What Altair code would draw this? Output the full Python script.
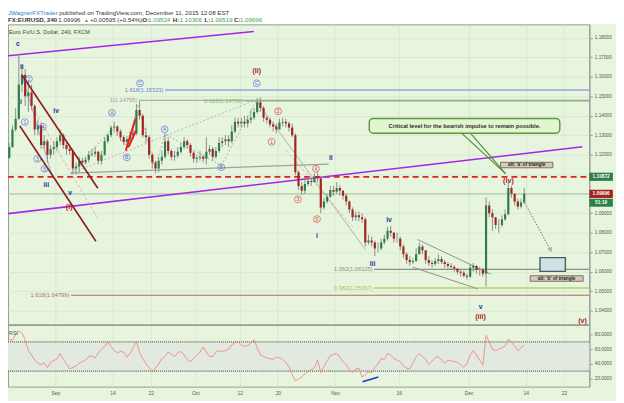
import altair as alt
import pandas as pd

# ---------------- values ----------------
FIRST_DAY = -8            # Aug 20 2015, trading days before Sep 1 (two bars per day)
FIRST_OPEN = 1.1150

close = [1.1185, 1.1240, 1.1330, 1.1385, 1.1560, 1.1610, 1.1500, 1.1520, 1.1450, 1.1330,
         1.1350, 1.1250, 1.1270, 1.1200, 1.1230, 1.1240, 1.1270, 1.1300, 1.1250, 1.1230,
         1.1220, 1.1130, 1.1140, 1.1170, 1.1160, 1.1175, 1.1200, 1.1205, 1.1215, 1.1170,
         1.1200, 1.1270, 1.1300, 1.1340, 1.1345, 1.1320, 1.1290, 1.1265, 1.1280, 1.1300,
         1.1310, 1.1430, 1.1400, 1.1300, 1.1290, 1.1200, 1.1160, 1.1130, 1.1170, 1.1190,
         1.1270, 1.1220, 1.1190, 1.1195, 1.1215, 1.1240, 1.1270, 1.1250, 1.1210, 1.1180,
         1.1185, 1.1190, 1.1180, 1.1215, 1.1230, 1.1190, 1.1220, 1.1260, 1.1270, 1.1280,
         1.1270, 1.1320, 1.1370, 1.1360, 1.1370, 1.1360, 1.1380, 1.1390, 1.1420, 1.1470,
         1.1440, 1.1390, 1.1380, 1.1355, 1.1345, 1.1330, 1.1365, 1.1370, 1.1360, 1.1340,
         1.1300, 1.1110, 1.1040, 1.1015, 1.1050, 1.1065, 1.1060, 1.1090, 1.1080, 1.0930,
         1.0960, 1.0985, 1.1020, 1.1010, 1.1030, 1.1015, 1.0990, 1.0960, 1.0920, 1.0880,
         1.0890, 1.0880, 1.0870, 1.0750, 1.0760, 1.0750, 1.0720, 1.0720, 1.0750, 1.0770,
         1.0810, 1.0800, 1.0770, 1.0770, 1.0730, 1.0690, 1.0660, 1.0650, 1.0655, 1.0690,
         1.0730, 1.0710, 1.0660, 1.0645, 1.0640, 1.0655, 1.0665, 1.0650, 1.0640, 1.0630,
         1.0625, 1.0615, 1.0600, 1.0595, 1.0580, 1.0575, 1.0620, 1.0630, 1.0610, 1.0610,
         1.0590, 1.0940, 1.0900, 1.0880, 1.0840, 1.0840, 1.0870, 1.0895, 1.1030, 1.1000,
         1.0960, 1.0935, 1.0955, 1.09996]
high = [1.1200, 1.1260, 1.1350, 1.1440, 1.1714, 1.1660, 1.1640, 1.1580, 1.1560, 1.1460,
        1.1380, 1.1360, 1.1300, 1.1280, 1.1250, 1.1270, 1.1290, 1.1330, 1.1310, 1.1270,
        1.1250, 1.1230, 1.1160, 1.1190, 1.1185, 1.1190, 1.1220, 1.1230, 1.1240, 1.1220,
        1.1220, 1.1290, 1.1310, 1.1350, 1.1370, 1.1350, 1.1330, 1.1300, 1.1295, 1.1320,
        1.1330, 1.1460, 1.1475, 1.1410, 1.1340, 1.1300, 1.1210, 1.1170, 1.1190, 1.1220,
        1.1310, 1.1290, 1.1230, 1.1220, 1.1240, 1.1260, 1.1290, 1.1280, 1.1260, 1.1220,
        1.1200, 1.1220, 1.1200, 1.1290, 1.1250, 1.1240, 1.1240, 1.1290, 1.1290, 1.1300,
        1.1300, 1.1350, 1.1390, 1.1390, 1.1390, 1.1400, 1.1400, 1.1430, 1.1440, 1.1490,
        1.1495, 1.1450, 1.1400, 1.1390, 1.1370, 1.1360, 1.1385, 1.1390, 1.1385, 1.1370,
        1.1360, 1.1310, 1.1120, 1.1060, 1.1070, 1.1085, 1.1080, 1.1105, 1.1110, 1.1090,
        1.0980, 1.1000, 1.1040, 1.1040, 1.1060, 1.1045, 1.1020, 1.1000, 1.0965, 1.0930,
        1.0910, 1.0910, 1.0900, 1.0880, 1.0790, 1.0780, 1.0760, 1.0750, 1.0770, 1.0790,
        1.0830, 1.0835, 1.0805, 1.0800, 1.0780, 1.0740, 1.0700, 1.0680, 1.0670, 1.0720,
        1.0750, 1.0740, 1.0710, 1.0680, 1.0660, 1.0670, 1.0690, 1.0680, 1.0660, 1.0650,
        1.0645, 1.0635, 1.0620, 1.0610, 1.0605, 1.0590, 1.0640, 1.0645, 1.0635, 1.0625,
        1.0620, 1.0981, 1.0960, 1.0920, 1.0880, 1.0870, 1.0890, 1.0920, 1.1060, 1.1040,
        1.1000, 1.0975, 1.0975, 1.10306]
low = [1.1140, 1.1180, 1.1235, 1.1320, 1.1380, 1.1520, 1.1450, 1.1420, 1.1430, 1.1300,
       1.1300, 1.1230, 1.1230, 1.1160, 1.1180, 1.1200, 1.1220, 1.1250, 1.1230, 1.1200,
       1.1200, 1.1100, 1.1100, 1.1110, 1.1140, 1.1150, 1.1160, 1.1190, 1.1190, 1.1150,
       1.1150, 1.1195, 1.1260, 1.1290, 1.1320, 1.1300, 1.1270, 1.1250, 1.1255, 1.1270,
       1.1280, 1.1300, 1.1380, 1.1290, 1.1260, 1.1180, 1.1130, 1.1105, 1.1110, 1.1150,
       1.1180, 1.1200, 1.1170, 1.1170, 1.1185, 1.1205, 1.1230, 1.1230, 1.1190, 1.1160,
       1.1160, 1.1170, 1.1160, 1.1150, 1.1200, 1.1170, 1.1180, 1.1210, 1.1240, 1.1250,
       1.1240, 1.1260, 1.1310, 1.1340, 1.1340, 1.1340, 1.1340, 1.1360, 1.1380, 1.1410,
       1.1420, 1.1370, 1.1360, 1.1340, 1.1320, 1.1310, 1.1330, 1.1345, 1.1340, 1.1320,
       1.1290, 1.1095, 1.1020, 1.0995, 1.1000, 1.1040, 1.1040, 1.1055, 1.1060, 1.0900,
       1.0920, 1.0950, 1.0980, 1.0990, 1.1000, 1.0990, 1.0970, 1.0940, 1.0900, 1.0860,
       1.0860, 1.0860, 1.0850, 1.0730, 1.0740, 1.0730, 1.0680, 1.0700, 1.0710, 1.0740,
       1.0760, 1.0780, 1.0750, 1.0750, 1.0710, 1.0670, 1.0640, 1.0630, 1.0640, 1.0650,
       1.0690, 1.0690, 1.0640, 1.0630, 1.0620, 1.0630, 1.0640, 1.0640, 1.0620, 1.0615,
       1.0610, 1.0600, 1.0585, 1.0575, 1.0570, 1.0560, 1.0570, 1.0600, 1.0590, 1.0580,
       1.0575, 1.0524, 1.0880, 1.0810, 1.0820, 1.0800, 1.0830, 1.0860, 1.0890, 1.0980,
       1.0940, 1.0920, 1.0925, 1.0950]
rsi = [68, 74, 72, 80, 85, 82, 73, 58, 52, 45, 41, 39, 41, 35, 42, 44, 47, 54, 46, 40,
       33, 35, 37, 41, 43, 45, 50, 51, 48, 55, 60, 64, 70, 64, 58, 55, 57, 56, 49, 54,
       62, 70, 55, 47, 40, 35, 30, 34, 40, 47, 50, 56, 53, 50, 55, 57, 52, 46, 43, 47,
       52, 56, 63, 56, 50, 50, 56, 58, 57, 58, 60, 66, 69, 70, 66, 64, 65, 68, 73, 62,
       52, 50, 48, 47, 46, 49, 48, 46, 42, 36, 25, 17, 19, 22, 26, 30, 32, 35, 45, 28,
       36, 44, 51, 53, 54, 49, 43, 39, 31, 28, 33, 34, 22, 25, 29, 28, 35, 40, 47, 46,
       54, 52, 47, 45, 43, 37, 34, 33, 41, 50, 54, 50, 46, 39, 44, 48, 50, 45, 41, 45,
       44, 43, 42, 39, 35, 40, 52, 58, 52, 45, 38, 79, 70, 60, 58, 60, 62, 64, 74, 70,
       64, 58, 62, 66]

tick_day = [0, 9, 15, 22, 29, 35, 44, 54, 65, 74, 80]
tick_text = ["Sep", "14", "22", "Oct", "12", "20", "Nov", "16", "Dec", "14", "22"]
price_ticks = [1.04, 1.05, 1.06, 1.07, 1.08, 1.09, 1.10, 1.11, 1.12, 1.13, 1.14, 1.15, 1.16, 1.17, 1.18]
hidden_ticks = [1.10, 1.11]          # covered by the price tags in the reference
rsi_ticks = [20, 40, 60, 80]

fib_text = ["1.618(1.15323)", "1(1.14795)", "0.618(1.14766)", "1.382(1.06125)", "0.382(1.05167)", "1.618(1.04799)"]
fib_price = [1.15323, 1.14795, 1.14766, 1.06125, 1.05167, 1.04799]
fib_start = [17.0, 12.9, 29.5, 49.9, 49.9, 2.2]          # trading day where each drawing begins
fib_color = ["#6f82d6", "#9a9a9a", "#86b568", "#8e8e8e", "#b5d65e", "#b5675a"]

critical_level = 1.10872
last_price = 1.09996

navy_labels = ["c", "ii", "i", "iv", "iii", "v", "ii", "i", "iv", "iii", "v"]
navy_day = [-5.90, -5.28, -5.43, 0.11, -1.44, 2.33, 43.32, 41.15, 52.48, 49.89, 66.88]
navy_price = [1.17675, 1.16511, 1.14689, 1.14233, 1.10437, 1.10017, 1.11839, 1.07820, 1.08630, 1.06387, 1.04196]

red_labels = ["(i)", "(ii)", "(iii)", "(iv)", "(v)"]
red_day = [2.17, 31.68, 66.88, 71.27, 82.92]
red_price = [1.09308, 1.16293, 1.03654, 1.10655, 1.03477]

blue_circ = ["C", "C", "A", "A", "B", "B", "2", "1", "4", "3", "5"]
blue_circ_day = [13.31, 31.68, 8.90, 17.19, 11.23, 26.09, -4.15, -4.81, -1.97, -2.84, -1.71]
blue_circ_price = [1.15666, 1.15666, 1.14147, 1.13307, 1.11869, 1.11363, 1.15888, 1.13676, 1.13439, 1.11788, 1.11282]

red_circ = ["2", "1", "3", "4", "5"]
red_circ_day = [35.05, 34.01, 38.15, 40.99, 41.15]
red_circ_price = [1.14233, 1.12664, 1.09713, 1.11282, 1.08701]

# ---------------- frames ----------------
n = len(close)
bars = pd.DataFrame({
    "t": [FIRST_DAY + 0.25 + 0.5 * i for i in range(n)],
    "open": [FIRST_OPEN] + close[:-1],
    "close": close, "high": high, "low": low, "rsi": rsi,
})
bars["dir"] = ["up" if c >= o else "down" for o, c in zip(bars["open"], bars["close"])]

X_DOM = [-7.453, 84.0]
P_DOM = [1.00111, 1.18688]
R_DOM = [8.78, 504.73]
W, H = 589, 367
BG = "#e7f5de"
GRID = "#d5e6cd"
FONT = "Liberation Sans"

XS = alt.Scale(domain=X_DOM, nice=False, zero=False)
PS = alt.Scale(domain=P_DOM, nice=False, zero=False)
RS = alt.Scale(domain=R_DOM, nice=False, zero=False)

label_expr = " : ".join(f"datum.value == {d} ? '{s}'" for d, s in zip(tick_day, tick_text)) + " : ''"
price_label_expr = " || ".join(f"abs(datum.value - {v}) < 0.0001" for v in hidden_ticks) + " ? '' : datum.label"
XAX = alt.Axis(values=tick_day, labelExpr=label_expr, grid=True, gridColor=GRID, gridWidth=0.8,
               ticks=False, domain=False, labelFontSize=5, labelColor="#555555", labelPadding=4,
               title=None, labelOverlap=False, labelFont=FONT)
PAX = alt.Axis(orient="right", values=price_ticks, format=".5f", labelExpr=price_label_expr,
               grid=True, gridColor=GRID,
               gridWidth=0.8, tickSize=3, tickColor="#999999", domainColor="#999999",
               labelFontSize=4.8, labelColor="#555555", labelPadding=2, title=None,
               labelOverlap=False, labelFont=FONT)
RAX = alt.Axis(orient="right", values=rsi_ticks, format=".4f", grid=False, tickSize=3,
               tickColor="#999999", domain=False, labelFontSize=4.8, labelColor="#555555",
               labelPadding=2, title=None, labelOverlap=False, labelFont=FONT)


def X(f):
    return alt.X(f, type="quantitative", scale=XS, axis=XAX)


def PY(f):
    return alt.Y(f, type="quantitative", scale=PS, axis=PAX)


def RY(f):
    return alt.Y(f, type="quantitative", scale=RS, axis=RAX)


ONE = pd.DataFrame({"k": [0]})


def seg(rows, color, width=1.0, dash=None, clip=True):
    df = pd.DataFrame(rows, columns=["x", "y", "x2", "y2"])
    kw = dict(color=color, strokeWidth=width, clip=clip)
    if dash:
        kw["strokeDash"] = dash
    return alt.Chart(df).mark_rule(**kw).encode(x=X("x"), y=PY("y"), x2=alt.X2("x2"), y2=alt.Y2("y2"))


def txt(df, color, size, bold=False, align="center", clip=False):
    return alt.Chart(df).mark_text(color=color, fontSize=size, font=FONT, align=align,
                                   baseline="middle", fontWeight="bold" if bold else "normal",
                                   clip=clip).encode(x=X("x"), y=PY("y"), text="s:N")


def hdr(s, x, y, color="#333333", bold=False, size=6.2):
    return alt.Chart(ONE).mark_text(align="left", baseline="middle", fontSize=size, font=FONT,
                                    fontWeight="bold" if bold else "normal", color=color).encode(
        x=alt.value(x), y=alt.value(y), text=alt.value(s))


layers = []
# white header strip above the frame
layers.append(alt.Chart(ONE).mark_rect(color="white").encode(
    x=alt.value(-10), x2=alt.value(W + 40), y=alt.value(-20), y2=alt.value(-0.5)))

# fib levels
for i in range(6):
    layers.append(seg([(fib_start[i] + 0.25, fib_price[i], X_DOM[1], fib_price[i])], fib_color[i],
                      1.4 if i in (2, 4) else 1.1))
    layers.append(txt(pd.DataFrame({"x": [fib_start[i]], "y": [fib_price[i]], "s": [fib_text[i]]}),
                      fib_color[i] if i != 4 else "#a3c44c", 5.8, align="right"))

# critical level and last price lines
layers.append(seg([(X_DOM[0], last_price, X_DOM[1], last_price)], "#9fbf9f", 1.0))
layers.append(seg([(X_DOM[0], critical_level, X_DOM[1], critical_level)], "#e0231c", 1.8, [6, 4]))

# channel / trend lines
layers.append(seg([(-8.23, 1.17053, 31.21, 1.18323), (-8.18, 1.08954, 82.92, 1.12411)], "#a526e8", 1.6))
layers.append(seg([(-5.28, 1.16106, -0.62, 1.11044)], "#93b4ea", 1.0))
layers.append(seg([(-3.53, 1.14385, 6.52, 1.08817)], "#d6b79a", 1.0, [3, 2]))
layers.append(seg([(2.4, 1.11060, 43.0, 1.11525)], "#a0a0a0", 1.2))
layers.append(seg([(31.68, 1.14740, 48.76, 1.07147)], "#a8a8a8", 0.9))
layers.append(seg([(36.34, 1.12209, 46.74, 1.08311)], "#f0a888", 0.9, [3, 2]))
layers.append(seg([(56.99, 1.07653, 68.48, 1.05881), (56.21, 1.06236, 66.46, 1.05122)], "#8f8f8f", 1.0))

zig = pd.DataFrame({"x": [2.48, 8.85, 11.18, 13.04, 15.68, 17.24, 26.09, 31.68],
                    "y": [1.11060, 1.13322, 1.12462, 1.14588, 1.11297, 1.13069, 1.11449, 1.14826],
                    "o": list(range(8))})
layers.append(alt.Chart(zig).mark_line(color="#a9a9a9", strokeWidth=0.9, strokeDash=[2, 2], clip=True)
              .encode(x=X("x"), y=PY("y"), order="o:Q"))
layers.append(seg([(2.48, 1.11060, 31.68, 1.14826)], "#b0b0b0", 0.9, [2, 2]))

# candles
cscale = alt.Scale(domain=["up", "down"], range=["#2f7d4a", "#a3231f"])
layers.append(alt.Chart(bars).mark_rule(color="#8d8d8d", strokeWidth=1, clip=True)
              .encode(x=X("t"), y=PY("low"), y2=alt.Y2("high")))
layers.append(alt.Chart(bars).mark_rule(strokeWidth=2.2, clip=True)
              .encode(x=X("t"), y=PY("open"), y2=alt.Y2("close"),
                      color=alt.Color("dir:N", scale=cscale, legend=None)))

# dark red channel, red arrows
layers.append(seg([(-5.28, 1.16106, 6.68, 1.10285), (-5.59, 1.13474, 6.37, 1.07567)], "#8e1a1a", 1.6))
layers.append(seg([(11.07, 1.12209, 12.63, 1.13864), (11.49, 1.12376, 12.69, 1.13256)], "#e3201b", 2.0))

# callout
layers.append(seg([(63.82, 1.13135, 70.81, 1.11029), (65.22, 1.13135, 70.81, 1.11029)], "#4e8a33", 1.1))
box = pd.DataFrame({"x": [49.38], "x2": [79.35], "y": [1.13864], "y2": [1.13105]})
layers.append(alt.Chart(box).mark_rect(fill="#e2f4d2", stroke="#5a9a3c", strokeWidth=1.5, cornerRadius=4)
              .encode(x=X("x"), x2=alt.X2("x2"), y=PY("y"), y2=alt.Y2("y2")))
layers.append(txt(pd.DataFrame({"x": [64.36], "y": [1.13484],
                                "s": ["Critical level for the bearish impulse to remain possible."]}),
                  "#2e2e2e", 5.8, bold=True))

# triangle labels and target box
tags = pd.DataFrame({"x": [70.03, 74.69], "x2": [78.26, 83.03], "y": [1.11616, 1.05795], "y2": [1.11333, 1.05512]})
layers.append(alt.Chart(tags).mark_rect(fill="#d8c9b6", stroke="#5e5650", strokeWidth=0.8)
              .encode(x=X("x"), x2=alt.X2("x2"), y=PY("y"), y2=alt.Y2("y2")))
layers.append(txt(pd.DataFrame({"x": [74.15, 78.86], "y": [1.11475, 1.05654],
                                "s": ["alt: 'a' of triangle", "alt: 'b' of triangle"]}), "#222222", 4.8, bold=True))
target = pd.DataFrame({"x": [76.24], "x2": [80.23], "y": [1.06727], "y2": [1.06018]})
layers.append(alt.Chart(target).mark_rect(fill="#cfe3e6", stroke="#4d5a5e", strokeWidth=1.4)
              .encode(x=X("x"), x2=alt.X2("x2"), y=PY("y"), y2=alt.Y2("y2")))
layers.append(seg([(73.87, 1.09511, 77.84, 1.07147)], "#6a6a6a", 1.0, [1.5, 1.5]))
layers.append(alt.Chart(pd.DataFrame({"x": [77.84], "y": [1.07147]}))
              .mark_point(shape="triangle", size=14, filled=False, color="#6a6a6a", strokeWidth=0.8, angle=151)
              .encode(x=X("x"), y=PY("y")))

# wave labels
layers.append(txt(pd.DataFrame({"x": navy_day, "y": navy_price, "s": navy_labels}), "#2130a8", 6.8, bold=True))
layers.append(txt(pd.DataFrame({"x": red_day, "y": red_price, "s": red_labels}), "#b3161b", 7.2, bold=True))
bc = pd.DataFrame({"x": blue_circ_day, "y": blue_circ_price, "s": blue_circ})
layers.append(alt.Chart(bc).mark_point(shape="circle", size=48, filled=False, color="#4d63d6", strokeWidth=0.9)
              .encode(x=X("x"), y=PY("y")))
layers.append(txt(bc, "#4d63d6", 5.0))
rc = pd.DataFrame({"x": red_circ_day, "y": red_circ_price, "s": red_circ})
layers.append(alt.Chart(rc).mark_point(shape="circle", size=48, filled=False, color="#d8392c", strokeWidth=0.9)
              .encode(x=X("x"), y=PY("y")))
layers.append(txt(rc, "#d8392c", 5.0))

layers.append(txt(pd.DataFrame({"x": [-7.3], "y": [1.18283], "s": ["Euro Fx/U.S. Dollar, 240, FXCM"]}),
                  "#444444", 5.8, align="left"))

# price tags on the axis
ptag = pd.DataFrame({"x": [84.0, 84.0, 84.0], "x2": [87.7, 87.7, 87.7],
                     "y": [critical_level + 0.0021, last_price + 0.0021, last_price - 0.0025],
                     "y2": [critical_level - 0.0021, last_price - 0.0021, last_price - 0.0066],
                     "c": ["a", "b", "c"]})
layers.append(alt.Chart(ptag).mark_rect(clip=False)
              .encode(x=X("x"), x2=alt.X2("x2"), y=PY("y"), y2=alt.Y2("y2"),
                      color=alt.Color("c:N", scale=alt.Scale(domain=["a", "b", "c"],
                                                           range=["#f2231b", "#5c9e6c", "#7fb38f"]), legend=None)))
layers.append(txt(pd.DataFrame({"x": [85.85, 85.85, 85.85], "y": [critical_level, last_price, last_price - 0.00455],
                                "s": ["1.10872", "1.09996", "51:19"]}), "white", 4.8, bold=True))

# header
layers += [
    hdr("JWagnerFXTrader", 0, -11, "#2f7fc4"),
    hdr("published on TradingView.com, December 11, 2015 12:08 EST", 52, -11),
    hdr("FX:EURUSD, 240", 0, -4.5, bold=True),
    hdr("1.09996", 51, -4.5),
    hdr("\u25b2", 77, -4.5, "#3aa14a", size=5),
    hdr("+0.00595 (+0.54%)", 83, -4.5),
    hdr("O:", 136, -4.5, bold=True), hdr("1.09524", 142, -4.5, "#3aa14a"),
    hdr("H:", 167, -4.5, bold=True), hdr("1.10306", 174, -4.5, "#3aa14a"),
    hdr("L:", 199, -4.5, bold=True), hdr("1.09519", 205, -4.5, "#3aa14a"),
    hdr("C:", 229, -4.5, bold=True), hdr("1.09996", 235, -4.5, "#3aa14a"),
]

price = alt.layer(*layers)

# ---------------- RSI pane ----------------
band = pd.DataFrame({"x": [X_DOM[0]], "x2": [X_DOM[1]], "y": [30], "y2": [70]})
rl = [
    alt.Chart(band).mark_rect(color="#e2e9df").encode(x=X("x"), x2=alt.X2("x2"), y=RY("y"), y2=alt.Y2("y2")),
    alt.Chart(pd.DataFrame({"x": [X_DOM[0]] * 2, "x2": [X_DOM[1]] * 2, "y": [30, 70]}))
    .mark_rule(color="#5a5a5a", strokeWidth=1.1, strokeDash=[1, 1]).encode(x=X("x"), x2=alt.X2("x2"), y=RY("y")),
    alt.Chart(pd.DataFrame({"x": [X_DOM[0]], "x2": [X_DOM[1]], "y": [92.97]}))
    .mark_rule(color="#9a9a9a", strokeWidth=2).encode(x=X("x"), x2=alt.X2("x2"), y=RY("y")),
    alt.Chart(bars).mark_line(color="#ef8a80", strokeWidth=0.9, clip=True).encode(x=X("t"), y=RY("rsi")),
    alt.Chart(pd.DataFrame({"x": [48.32], "x2": [50.81], "y": [15.54], "y2": [21.89]}))
    .mark_rule(color="#2233dd", strokeWidth=1.6).encode(x=X("x"), x2=alt.X2("x2"), y=RY("y"), y2=alt.Y2("y2")),
    alt.Chart(pd.DataFrame({"x": [-7.3], "y": [81.8], "s": ["RSI"]}))
    .mark_text(align="left", fontSize=5.5, font=FONT, color="#555555").encode(x=X("x"), y=RY("y"), text="s:N"),
]
rsi_layer = alt.layer(*rl)

chart = alt.layer(price, rsi_layer).resolve_scale(y="independent").properties(
    width=W, height=H,
    autosize=alt.AutoSizeParams(type="none"),
    padding={"left": 0, "top": 14, "right": 27, "bottom": 12},
).configure(background=BG, font=FONT).configure_view(fill=BG, stroke="#9a9a9a", strokeWidth=1)

chart.save("out.html", embed_options={"renderer": "svg", "actions": False})
